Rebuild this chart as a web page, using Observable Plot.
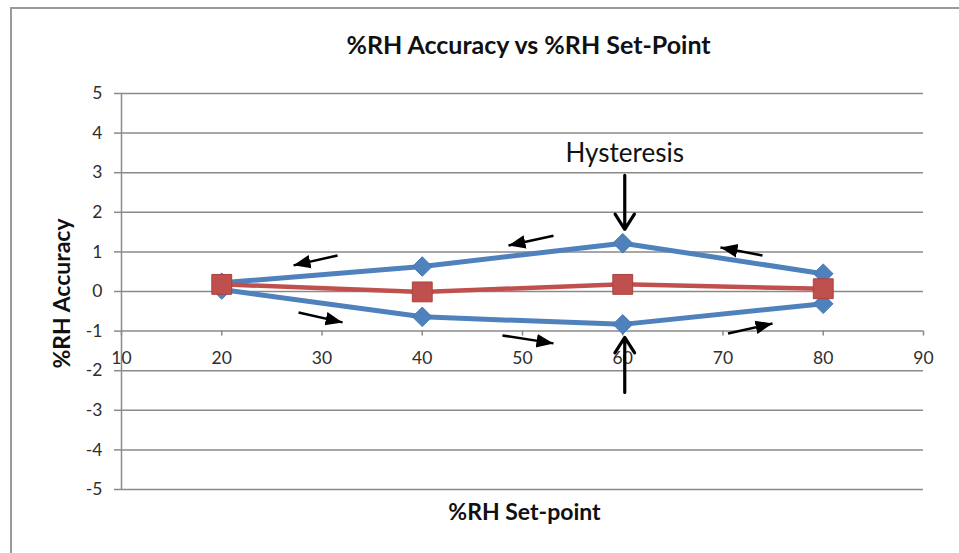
<!DOCTYPE html>
<html>
<head>
<meta charset="utf-8">
<script src="https://cdn.jsdelivr.net/npm/d3@7"></script>
<script src="https://cdn.jsdelivr.net/npm/@observablehq/plot@0.6"></script>
<style>
  html, body { margin: 0; padding: 0; background: #fff; }
  #wrap { position: relative; width: 959px; height: 553px; overflow: hidden; }
  #border { position: absolute; left: 10px; top: 7px; width: 960px; height: 560px;
            border-left: 2px solid #9a9a9a; border-top: 2px solid #9a9a9a; pointer-events: none; }
</style>
</head>
<body>
<div id="wrap"><div id="border"></div></div>
<script>
// ---- data ----
const titleText = "%RH Accuracy vs %RH Set-Point";
const xLabel = "%RH Set-point";
const yLabel = "%RH Accuracy";
const setPoints = [20, 40, 60, 80];
const descendingBranch = [0.22, 0.63, 1.22, 0.45];   // upper blue (80 -> 20)
const ascendingBranch = [0.05, -0.64, -0.83, -0.31]; // lower blue (20 -> 80)
const averageValues = [0.18, -0.01, 0.18, 0.07];     // red
const xTicks = [10, 20, 30, 40, 50, 60, 70, 80, 90];
const yTicks = [-5, -4, -3, -2, -1, 0, 1, 2, 3, 4, 5];
const annotationText = [{x: 60.2, y: 3.48, text: "Hysteresis"}];
const directionArrows = [
  {x1: 31.55, y1: 0.91, x2: 27.16, y2: 0.66},
  {x1: 27.66, y1: -0.53, x2: 32.05, y2: -0.78},
  {x1: 53.09, y1: 1.41, x2: 48.6, y2: 1.16},
  {x1: 73.94, y1: 0.91, x2: 69.75, y2: 1.11},
  {x1: 48.0, y1: -1.11, x2: 53.09, y2: -1.31},
  {x1: 70.5, y1: -1.06, x2: 74.94, y2: -0.81}
];
const hysteresisArrows = [
  {x1: 60.2, y1: 2.93, x2: 60.2, y2: 1.57},
  {x1: 60.2, y1: -2.55, x2: 60.2, y2: -1.16}
];

const desc = setPoints.map((x, i) => ({x, y: descendingBranch[i]}));
const asc = setPoints.map((x, i) => ({x, y: ascendingBranch[i]}));
const avg = setPoints.map((x, i) => ({x, y: averageValues[i]}));

const BLUE = "#4F81BD", RED = "#C0504D", GRID = "#8a8a8a", TXT = "#2e2e2e";

function filledArrow(color) {
  const m = d3.create("svg:marker")
    .attr("viewBox", "0 -5 10 10")
    .attr("refX", 10).attr("refY", 0)
    .attr("markerWidth", 6.8).attr("markerHeight", 6.8)
    .attr("orient", "auto")
    .attr("fill", color).attr("stroke", "none");
  m.append("path").attr("d", "M0,-4L10,0L0,4Z");
  return m.node();
}

const chart = Plot.plot({
  width: 959, height: 553,
  marginLeft: 121, marginRight: 36, marginTop: 93, marginBottom: 64,
  x: {domain: [10, 90], axis: null},
  y: {domain: [-5, 5], axis: null},
  style: {fontFamily: "Lato, sans-serif", background: "transparent", overflow: "visible"},
  marks: [
    Plot.ruleY(yTicks, {stroke: GRID, strokeWidth: 1.5}),
    Plot.ruleY(yTicks, {x1: 10, x2: 10, insetLeft: -7, stroke: GRID, strokeWidth: 1.5}),
    Plot.ruleX([10], {stroke: GRID, strokeWidth: 1.5}),
    Plot.ruleX(xTicks, {x: d => d, y1: -1, y2: -1, insetBottom: -5, stroke: GRID, strokeWidth: 1.5}),
    Plot.text(yTicks, {x: 10, y: d => d, text: d => String(d), dx: -19, textAnchor: "end", fontSize: 17.5, fill: TXT}),
    Plot.text(xTicks, {x: d => d, y: -1, text: d => String(d), dy: 27, fontSize: 17.5, fill: TXT}),
    Plot.line(desc, {x: "x", y: "y", stroke: BLUE, strokeWidth: 5}),
    Plot.line(asc, {x: "x", y: "y", stroke: BLUE, strokeWidth: 5}),
    Plot.dot(desc, {x: "x", y: "y", symbol: "diamond2", r: 8.8, fill: BLUE, stroke: "#4577b3", strokeWidth: 1}),
    Plot.dot(asc, {x: "x", y: "y", symbol: "diamond2", r: 8.8, fill: BLUE, stroke: "#4577b3", strokeWidth: 1}),
    Plot.line(avg, {x: "x", y: "y", stroke: RED, strokeWidth: 4.5}),
    Plot.dot(avg, {x: "x", y: "y", symbol: "square", r: 11.2, fill: RED, stroke: "#a8413e", strokeWidth: 1}),
    Plot.link(directionArrows, {x1: "x1", y1: "y1", x2: "x2", y2: "y2", stroke: "#000", strokeWidth: 2.5, markerEnd: filledArrow}),
    Plot.arrow(hysteresisArrows, {x1: "x1", y1: "y1", x2: "x2", y2: "y2", stroke: "#000", strokeWidth: 3.2, headLength: 10, headAngle: 65}),
    Plot.text(annotationText, {x: "x", y: "y", text: "text", fontSize: 26, fill: "#111"}),
    Plot.text([titleText], {frameAnchor: "top", lineAnchor: "middle", textAnchor: "middle", dy: -48, dx: 6, text: d => d, fontSize: 25, fontWeight: "bold", fill: "#111"}),
    Plot.text([xLabel], {frameAnchor: "bottom", lineAnchor: "middle", textAnchor: "middle", dy: 23, dx: 2, text: d => d, fontSize: 23, fontWeight: "bold", fill: "#111"}),
    Plot.text([yLabel], {frameAnchor: "left", lineAnchor: "middle", textAnchor: "middle", dx: -59, dy: 2, rotate: -90, text: d => d, fontSize: 23, fontWeight: "bold", fill: "#111"})
  ]
});
document.getElementById("wrap").insertBefore(chart, document.getElementById("border"));
</script>
</body>
</html>
